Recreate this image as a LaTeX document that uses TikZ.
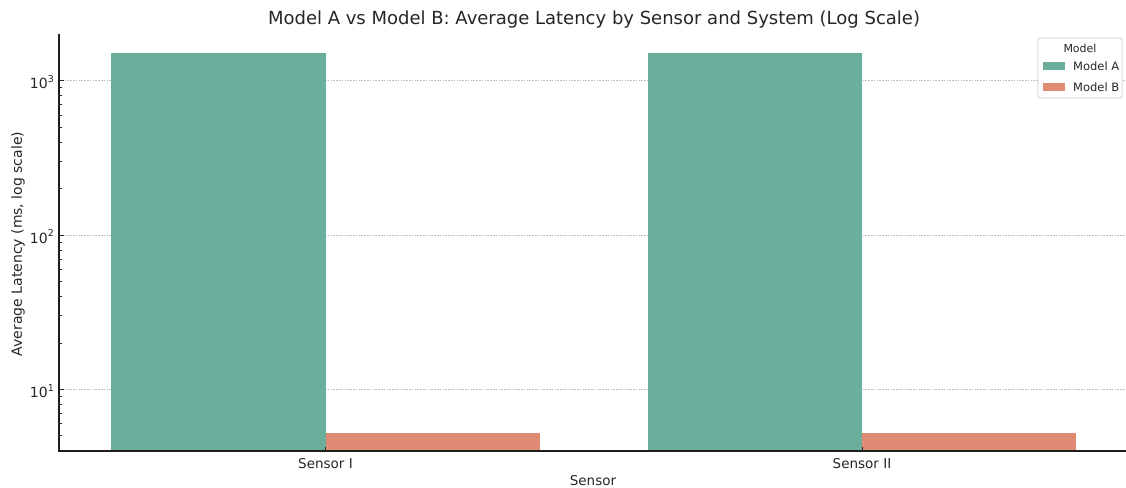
\documentclass[tikz,border=0pt]{standalone}
\usepackage{fontspec}
\setmainfont{DejaVu Sans}
\definecolor{barA}{RGB}{108,174,156}
\definecolor{barB}{RGB}{224,139,115}
\definecolor{txt}{RGB}{38,38,38}
\definecolor{gridc}{RGB}{190,190,190}
\newcommand{\tenp}[1]{10\raisebox{0.45em}{\fontsize{9.5}{10}\selectfont #1}}
\begin{document}
\begin{tikzpicture}[x=1pt,y=-1pt,
  lbl/.style={text=txt,inner sep=0pt},
  gridline/.style={draw=gridc,dash pattern=on 1.6pt off 1.2pt,line width=0.7pt},
  axisline/.style={draw=txt!80!black,line width=1.1pt},
  tickmajor/.style={draw=txt,line width=0.8pt},
  tickminor/.style={draw=txt,line width=0.6pt}]
\useasboundingbox (0,0) rectangle (1126,487);
% grid
\foreach \yy in {80.7,235,389.3}{
  \draw[gridline] (59,\yy) -- (1126,\yy);
}
% bars
\fill[barA] (111,53.3) rectangle (325.5,451);
\fill[barB] (325.5,433.3) rectangle (540,451);
\fill[barA] (648,53.3) rectangle (862,451);
\fill[barB] (862,433.3) rectangle (1076,451);
% axes
\coordinate (o) at (59,451);
\coordinate (ytop) at (59,34);
\coordinate (xend) at (1126,451);
\draw[axisline] (ytop) -- (o) -- (xend);
% major ticks
\foreach \yy in {80.7,235,389.3}{
  \draw[tickmajor] (59,\yy) -- (64,\yy);
}
% minor ticks
\foreach \d in {0,1,2,3}{
  \foreach \k in {2,...,9}{
    \pgfmathsetmacro{\yy}{389.3-(ln(\k)/ln(10)+\d-1)*154.3}
    \pgfmathparse{(\yy>34.5 && \yy<450) ? 1 : 0}
    \ifnum\pgfmathresult=1
      \draw[tickminor] (59,\yy) -- (62,\yy);
    \fi
  }
}
% y tick labels
\node[lbl,font=\fontsize{14}{16}\selectfont,anchor=east] (t3) at (54,82) {\tenp{3}};
\node[lbl,font=\fontsize{14}{16}\selectfont,anchor=east] (t2) at (54,236.5) {\tenp{2}};
\node[lbl,font=\fontsize{14}{16}\selectfont,anchor=east] (t1) at (54,391) {\tenp{1}};
% x tick labels
\draw[tickmajor] (325.5,451) -- (325.5,447);
\draw[tickmajor] (862,451) -- (862,447);
\node[lbl,font=\fontsize{13.5}{15}\selectfont] (s1) at (325.5,464) {Sensor I};
\node[lbl,font=\fontsize{13.5}{15}\selectfont] (s2) at (862,464) {Sensor II};
% axis labels
\node[lbl,font=\fontsize{13.5}{15}\selectfont] (xl) at (593,481) {Sensor};
\node[lbl,font=\fontsize{14}{16}\selectfont,rotate=90] (yl) at (18,244) {Average Latency (ms, log scale)};
% title
\node[lbl,font=\fontsize{18}{20}\selectfont] (title) at (594,20) {Model A vs Model B: Average Latency by Sensor and System (Log Scale)};
% legend
\draw[draw=gridc!80!white,fill=white,rounded corners=2pt,line width=0.7pt] (1038,38) rectangle (1122,98);
\node[lbl,font=\fontsize{11}{13}\selectfont] (lt) at (1080,48) {Model};
\fill[barA] (1043,62) rectangle (1065,70);
\fill[barB] (1043,83) rectangle (1065,91);
\node[lbl,font=\fontsize{11.5}{13}\selectfont,anchor=west] (la) at (1073,66.5) {Model A};
\node[lbl,font=\fontsize{11.5}{13}\selectfont,anchor=west] (lb) at (1073,87.5) {Model B};
\end{tikzpicture}
\end{document}
